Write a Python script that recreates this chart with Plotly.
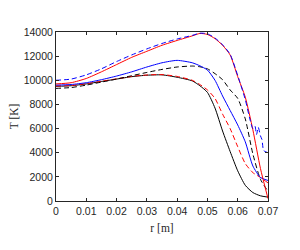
import plotly.graph_objects as go

# radial positions [m]
r = [0, 0.005, 0.01, 0.015, 0.02, 0.025, 0.03, 0.035, 0.04, 0.045, 0.0475,
     0.05, 0.0525, 0.055, 0.0575, 0.06, 0.0625, 0.065, 0.0675, 0.07]

# temperature profiles [K]
T_red_solid = [9700, 9800, 10150, 10700, 11300, 11900, 12400, 12900, 13300, 13680, 13880,
               13800, 13450, 12900, 12100, 10300, 8600, 5900, 2700, 200]
T_blue_solid = [9600, 9650, 9800, 10050, 10350, 10700, 11100, 11450, 11650, 11450, 11200,
                10850, 10000, 8700, 7500, 6300, 4900, 2900, 1950, 1700]
T_black_dashed = [9330, 9400, 9600, 9850, 10100, 10380, 10650, 10900, 11100, 11180, 11120,
                  10950, 10550, 10050, 9200, 8500, 6800, 3900, 1800, 800]
T_black_solid = [9500, 9550, 9700, 9900, 10100, 10300, 10420, 10450, 10250, 9950, 9550,
                 9000, 7700, 5800, 4100, 2500, 1300, 700, 430, 320]
T_red_dashed = [9520, 9570, 9720, 9920, 10120, 10320, 10440, 10470, 10320, 10000, 9650,
                9200, 8500, 7200, 6000, 4500, 3100, 2350, 1950, 1500]

r_bd = [0, 0.005, 0.01, 0.015, 0.02, 0.025, 0.03, 0.035, 0.04, 0.045, 0.0475, 0.05,
        0.0525, 0.055, 0.0575, 0.06, 0.0625, 0.064, 0.065, 0.0657, 0.0662, 0.0668,
        0.0675, 0.068, 0.0685, 0.069, 0.07]
T_blue_dashed = [10000, 10100, 10450, 10950, 11550, 12100, 12600, 13050, 13420, 13720, 13900, 13850,
                 13500, 12950, 12150, 10400, 8400, 6800, 6000, 6200, 5500, 6100,
                 5400, 5100, 4200, 4100, 4000]

x_ticks = [0, 0.01, 0.02, 0.03, 0.04, 0.05, 0.06, 0.07]
x_ticklabels = ["0", "0.01", "0.02", "0.03", "0.04", "0.05", "0.06", "0.07"]
y_ticks = [0, 2000, 4000, 6000, 8000, 10000, 12000, 14000]
y_ticklabels = ["0", "2000", "4000", "6000", "8000", "10000", "12000", "14000"]

fig = go.Figure()
series = [
    (r, T_black_solid, "black", "solid"),
    (r, T_red_dashed, "red", "dash"),
    (r, T_black_dashed, "black", "dash"),
    (r, T_blue_solid, "blue", "solid"),
    (r, T_red_solid, "red", "solid"),
    (r_bd, T_blue_dashed, "blue", "dash"),
]
for xs, ys, c, d in series:
    fig.add_trace(go.Scatter(x=xs, y=ys, mode="lines",
                             line=dict(color=c, width=1, dash=("5px,3px" if d == "dash" else "solid"),
                                       shape="spline", smoothing=0.6),
                             showlegend=False, hoverinfo="skip"))

axis_common = dict(showgrid=False, zeroline=False, showline=True, linecolor="#262626",
                   linewidth=1, mirror="allticks", ticks="inside", ticklen=3,
                   tickcolor="#262626", tickwidth=1,
                   tickfont=dict(family="Liberation Sans, Arial", size=10.5, color="#262626"))

fig.update_xaxes(range=[0, 0.07], tickvals=x_ticks, ticktext=x_ticklabels,
                 title=dict(text="r [m]", font=dict(family="Liberation Serif, DejaVu Serif", size=11.5,
                                                     color="#262626"), standoff=8),
                 **axis_common)
fig.update_yaxes(range=[0, 14000], tickvals=y_ticks, ticktext=y_ticklabels,
                 title=dict(text="T [K]", font=dict(family="Liberation Serif, DejaVu Serif", size=11.5,
                                                     color="#262626"), standoff=7),
                 **axis_common)

fig.update_layout(width=300, height=250, margin=dict(l=48, r=40, t=24, b=57, autoexpand=False),
                  paper_bgcolor="white", plot_bgcolor="white")

fig.write_html("out.html")
